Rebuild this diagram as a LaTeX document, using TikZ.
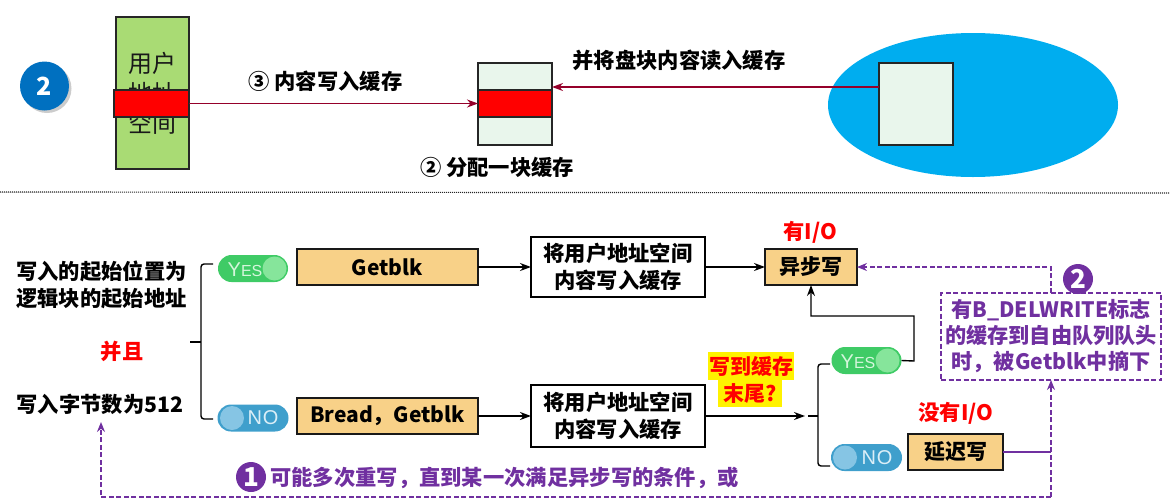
\documentclass[tikz,border=0pt]{standalone}
\usepackage{fontspec}
\setmainfont{Noto Sans CJK SC}
\newfontfamily\pillfont{Liberation Sans}
\usetikzlibrary{arrows.meta,shapes.misc,shapes.geometric,shadows}
\definecolor{boxorange}{HTML}{F8D188}
\definecolor{purp}{HTML}{7030A0}
\definecolor{darkred}{HTML}{95002A}
\definecolor{usergreen}{HTML}{A9DB74}
\definecolor{palegreen}{HTML}{E9F6EC}
\definecolor{diskblue}{HTML}{00ADEF}
\definecolor{ballblue}{HTML}{0070C0}
\definecolor{yesgreen}{HTML}{3FCB66}
\definecolor{yesknob}{HTML}{86E59B}
\definecolor{nopill}{HTML}{3F9FCC}
\definecolor{noknob}{HTML}{86C5E4}
\tikzset{
  x=1pt,y=-1pt,
  every node/.style={inner sep=0pt,outer sep=0pt},
  lab/.style={font=\fontsize{21.3}{27}\selectfont\bfseries,align=center,text=black},
  redlab/.style={lab,text=red},
  purplab/.style={lab,text=purp},
  orangebox/.style={draw=black!90,line width=1.4pt,fill=boxorange,rectangle,
    drop shadow={shadow xshift=1pt,shadow yshift=-1pt,opacity=.35},
    font=\fontsize{21}{24}\selectfont\bfseries},
  whitebox/.style={draw=black,line width=1.2pt,fill=white,minimum width=174pt,minimum height=60pt,
    align=center,font=\fontsize{21.3}{27}\selectfont\bfseries},
  blockbox/.style={draw=black!85,line width=1.2pt,fill=palegreen,minimum width=74pt,minimum height=82pt},
  redbar/.style={draw=black!85,line width=1.1pt,fill=red,minimum height=27pt},
  flow/.style={draw=black,line width=1.4pt,-{Stealth[length=11pt,width=8pt]}},
  plain/.style={draw=black,line width=1.4pt,rounded corners=3pt},
  redflow/.style={draw=darkred,line width=1.4pt,-{Stealth[length=11pt,width=8pt]}},
  purpdash/.style={draw=purp,line width=1.3pt,dash pattern=on 5pt off 2.5pt},
  purpflow/.style={purpdash,-{Stealth[length=10pt,width=8pt]}},
  numball/.style={circle,fill=purp,text=white,minimum size=30pt,font=\fontsize{26}{26}\selectfont\bfseries},
  yespill/.style={rounded rectangle,fill=yesgreen,minimum width=70pt,minimum height=27pt},
  nopillsh/.style={rounded rectangle,fill=nopill,minimum width=71pt,minimum height=27pt},
  knobyes/.style={circle,fill=yesknob,minimum size=24pt},
  knobno/.style={circle,fill=noknob,minimum size=24pt},
  pillyestxt/.style={text=yesknob!35!white,font=\pillfont\fontsize{20}{20}\selectfont},
  pillnotxt/.style={text=noknob!30!white,font=\pillfont\fontsize{20}{20}\selectfont},
}
\begin{document}
\begin{tikzpicture}
\useasboundingbox (0,0) rectangle (1170,501);
% top part
\node[circle,fill=ballblue,minimum size=49pt,text=white,font=\fontsize{25}{25}\selectfont\bfseries,
  drop shadow={shadow xshift=2.5pt,shadow yshift=-2.5pt,opacity=.4}] (ball) at (44.5,86) {2};
\node[draw=black!85,line width=1.2pt,fill=usergreen,minimum width=73pt,minimum height=152pt,align=center,
  font=\fontsize{24}{30}\selectfont,text=black!90] (user) at (152.5,93) {用户\\地址\\空间};
\node[redbar,minimum width=75pt] (userred) at (151.5,103.5) {};
\node[ellipse,fill=diskblue,minimum width=290pt,minimum height=144pt] (disk) at (973,105) {};
\node[blockbox] (buf) at (515,104) {};
\node[redbar,minimum width=74pt] (bufred) at (515,103.5) {};
\node[blockbox] (diskblk) at (916,104) {};
\coordinate (bufin) at (buf.east |- 0,87);
\coordinate (diskout) at (diskblk.west |- 0,87);
\draw[redflow] (userred.east) -- (bufred.west);
\draw[redflow] (diskout) -- (bufin);
\node[lab] (l3) at (325.5,81) {③ 内容写入缓存};
\node[lab] (lread) at (679,60) {并将盘块内容读入缓存};
\node[lab] (l2) at (497,167) {② 分配一块缓存};
\coordinate (sepa) at (0,192);
\coordinate (sepb) at (1170,193);
\draw[black!85,line width=1.2pt,dash pattern=on 1.2pt off .8pt] (sepa) -- (sepb);
% left conditions
\node[lab] (cond1) at (101.5,284.5) {写入的起始位置为\\逻辑块的起始地址};
\node[redlab] (and) at (122,351) {并且};
\node[lab] (cond2) at (100,404) {写入字节数为512};
% pills left
\node[yespill] (yes1) at (253,268.5) {};
\node[knobyes] (yes1k) at (274.5,268.5) {};
\node[pillyestxt] (yes1t) at (245,270) {Y\fontsize{16}{16}\selectfont ES};
\node[nopillsh] (no1) at (253,418) {};
\node[knobno] (no1k) at (232,418) {};
\node[pillnotxt] (no1t) at (263,418) {N\kern1pt O};
% left brace
\coordinate (bl) at (190,342);
\coordinate (bm) at (201,342);
\coordinate (bt) at (213,264);
\coordinate (bb) at (213,419);
\draw[plain] (bt) -| (bm) |- (bb);
\draw[plain] (bl) -- (bm);
% upper row
\node[orangebox,minimum width=181pt,minimum height=36pt] (getblk) at (387.5,267) {Getblk};
\node[whitebox] (w1) at (618,267) {将用户地址空间\\内容写入缓存};
\node[orangebox,minimum width=92pt,minimum height=36pt] (async) at (811,267) {异步写};
\node[redlab] (hasio) at (810,232) {有I/O};
\draw[flow] (getblk) -- (w1);
\draw[flow] (w1) -- (async);
% lower row
\node[orangebox,minimum width=181pt,minimum height=36pt] (bread) at (387.5,416) {Bread，Getblk};
\node[whitebox,minimum height=62pt] (w2) at (618,416) {将用户地址空间\\内容写入缓存};
\draw[flow] (bread) -- (w2);
\coordinate (b2tip) at (805,416);
\draw[flow] (w2) -- (b2tip);
% highlight question
\node[fill=yellow,minimum width=86pt,minimum height=28pt] (hl1) at (751,366) {};
\node[fill=yellow,minimum width=64pt,minimum height=27pt] (hl2) at (750,393.5) {};
\node[redlab,font=\fontsize{21}{21}\selectfont\bfseries] (q1) at (751,366) {写到缓存};
\node[redlab,font=\fontsize{21}{21}\selectfont\bfseries] (q2) at (750,393.5) {末尾?};
% right pills
\node[yespill] (yes2) at (866.5,360.5) {};
\node[knobyes] (yes2k) at (887.5,360.5) {};
\node[pillyestxt] (yes2t) at (858,362) {Y\fontsize{16}{16}\selectfont ES};
\node[nopillsh] (no2) at (866.5,457.5) {};
\node[knobno] (no2k) at (845,457.5) {};
\node[pillnotxt] (no2t) at (877,457.5) {N\kern1pt O};
% right brace
\coordinate (cl) at (808,416);
\coordinate (cm) at (818,416);
\coordinate (ct) at (830,364);
\coordinate (cb) at (830,466);
\draw[plain] (ct) -| (cm) |- (cb);
\draw[plain] (cl) -- (cm);
% delayed write
\node[orangebox,minimum width=95pt,minimum height=36pt] (delay) at (955.5,452) {延迟写};
\node[redlab] (noio) at (956,413) {没有I/O};
\coordinate (y2out) at (914,361);
\coordinate (y2mid) at (914,316);
\draw[flow] (yes2.east) -- (y2out) -- (y2mid) -| (async.south);
% note
\node[draw=purp,line width=1.3pt,dash pattern=on 5pt off 2.5pt,fill=white,minimum width=220pt,minimum height=87pt,
  align=center,text=purp,font=\fontsize{21.2}{26}\selectfont\bfseries] (note) at (1051,336.5) {有B\_DELWRITE标志\\的缓存到自由队列队头\\时，被Getblk中摘下};
\node[numball] (n2) at (1078,279) {2};
\coordinate (notetop) at (1051,293);
\coordinate (notetopup) at (1051,267);
\draw[purpflow] (notetop) -- (notetopup) -- (async.east);
\coordinate (notebot) at (1051,380);
\coordinate (corner1) at (1051,497);
\coordinate (corner2) at (101,497);
\coordinate (leftup) at (101,422);
\coordinate (delayj) at (1051,452);
\draw[purp,line width=1.3pt] (delay.east) -- (delayj);
\draw[purpflow] (corner1) -- (notebot);
\draw[purpflow] (corner1) -- (corner2) -- (leftup);
\node[numball] (n1) at (251,477) {1};
\node[purplab] (rewrite) at (504.5,478) {可能多次重写，直到某一次满足异步写的条件，或};
\end{tikzpicture}
\end{document}
